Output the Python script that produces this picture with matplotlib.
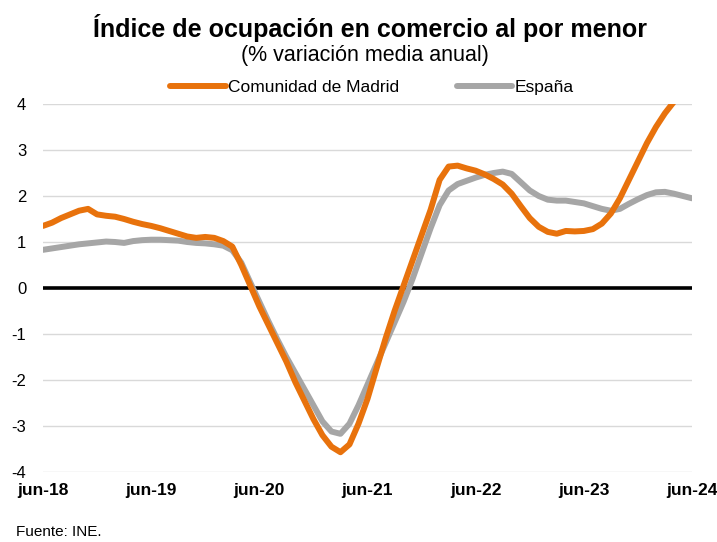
import matplotlib.pyplot as plt

# tasa de variación media anual, datos mensuales jun-18 .. jun-24
madrid = [1.35, 1.42, 1.52, 1.60, 1.68, 1.72, 1.60, 1.57, 1.55, 1.50, 1.44, 1.39,
          1.35, 1.30, 1.24, 1.18, 1.12, 1.09, 1.11, 1.09, 1.02, 0.90, 0.50, 0.05,
          -0.40, -0.80, -1.20, -1.60, -2.05, -2.45, -2.85, -3.20, -3.45, -3.57, -3.40, -2.95,
          -2.41, -1.75, -1.10, -0.50, 0.05, 0.60, 1.15, 1.70, 2.35, 2.64, 2.66, 2.60,
          2.55, 2.47, 2.37, 2.25, 2.05, 1.78, 1.52, 1.33, 1.22, 1.18, 1.24, 1.23,
          1.24, 1.28, 1.40, 1.62, 1.95, 2.35, 2.75, 3.15, 3.50, 3.80, 4.05, 4.30,
          4.55]
espana = [0.83, 0.86, 0.89, 0.92, 0.95, 0.97, 0.99, 1.01, 1.00, 0.98, 1.02, 1.04,
          1.05, 1.05, 1.04, 1.03, 1.00, 0.98, 0.97, 0.95, 0.92, 0.82, 0.55, 0.12,
          -0.30, -0.72, -1.12, -1.50, -1.85, -2.20, -2.55, -2.90, -3.12, -3.17, -2.95, -2.55,
          -2.10, -1.65, -1.20, -0.75, -0.30, 0.20, 0.75, 1.30, 1.80, 2.12, 2.26, 2.33,
          2.40, 2.46, 2.50, 2.53, 2.48, 2.30, 2.12, 2.00, 1.92, 1.90, 1.90, 1.87,
          1.84, 1.78, 1.72, 1.68, 1.72, 1.83, 1.93, 2.02, 2.08, 2.09, 2.05, 2.00,
          1.95]
etiquetas = ["jun-18", "jun-19", "jun-20", "jun-21", "jun-22", "jun-23", "jun-24"]

plt.rcParams['font.family'] = ['Liberation Sans', 'DejaVu Sans']
plt.rcParams['axes.unicode_minus'] = False

fig = plt.figure(figsize=(7.17, 5.42), dpi=100)
ax = fig.add_axes([43 / 717, 1 - 472 / 542, 649 / 717, 368 / 542])

meses = list(range(len(madrid)))
ax.plot(meses, madrid, color="#E8720C", lw=4.3, solid_capstyle="round",
        label="Comunidad de Madrid", zorder=4)
ax.plot(meses, espana, color="#A6A6A6", lw=4.3, solid_capstyle="round",
        label="España", zorder=3)

ax.set_xlim(0, 72)
ax.set_ylim(-4, 4)
ax.set_yticks(range(-4, 5))
ax.grid(axis="y", color="#D9D9D9", lw=1)
ax.axhline(0, color="black", lw=2.6, zorder=2)
ax.set_axisbelow(True)

ax.set_xticks(range(0, 73, 12))
ax.set_xticklabels(etiquetas, fontweight="bold", fontsize=12.5)
ax.tick_params(axis="x", length=0, pad=8)
ax.tick_params(axis="y", length=0, pad=12, labelsize=12)
for s in ax.spines.values():
    s.set_visible(False)

fig.text(0.516, 0.948, "Índice de ocupación en comercio al por menor",
         ha="center", va="center", fontsize=18, fontweight="bold")
fig.text(0.509, 0.897, "(% variación media anual)", ha="center", va="center", fontsize=15.5)
fig.legend(loc="center", bbox_to_anchor=(0.519, 0.838), ncol=2, frameon=False,
           fontsize=12.5, handlelength=3.2, handletextpad=0.15, columnspacing=3.3)
fig.text(0.023, 0.018, "Fuente: INE.", fontsize=11, ha="left", va="center")

fig.savefig("out.png", dpi=100)
